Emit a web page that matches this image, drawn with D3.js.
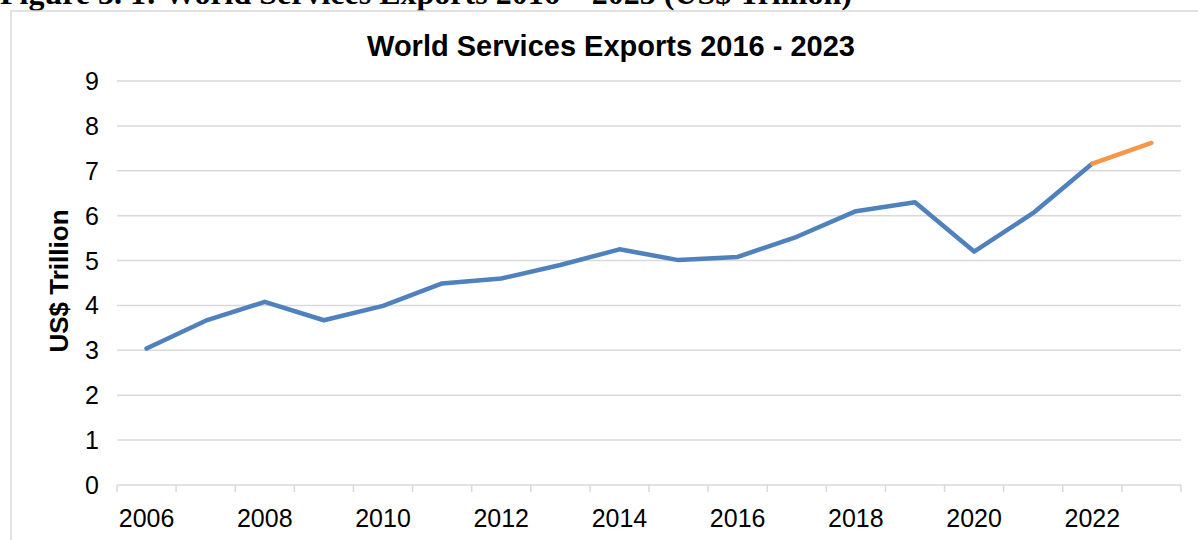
<!DOCTYPE html>
<html>
<head>
<meta charset="utf-8">
<script src="https://cdn.jsdelivr.net/npm/d3@7"></script>
<style>
  body { margin: 0; background: #fff; }
  svg { display: block; }
</style>
</head>
<body>
<svg width="1198" height="540"></svg>
<script>
var years = ["2006","2007","2008","2009","2010","2011","2012","2013","2014",
             "2015","2016","2017","2018","2019","2020","2021","2022","2023"];
// actual exports, US$ trillion
var actual = [3.04, 3.66, 4.08, 3.67, 3.99, 4.49, 4.60, 4.90, 5.25,
              5.01, 5.08, 5.53, 6.10, 6.30, 5.20, 6.06, 7.16, null];
// projection segment
var projected = [null, null, null, null, null, null, null, null, null,
                 null, null, null, null, null, null, null, 7.16, 7.62];
var yTicks = [0, 1, 2, 3, 4, 5, 6, 7, 8, 9];

var svg = d3.select("svg");

// figure caption, clipped at the top of the page like the source
svg.append("text")
    .attr("x", 0)
    .attr("y", 4)
    .style("font-family", "'Liberation Serif', 'Times New Roman', serif")
    .style("font-weight", "bold")
    .style("font-size", "32px")
    .text("Figure 3. 1: World Services Exports 2016 \u2013 2023 (US$ Trillion)");

// chart area border
svg.append("rect")
    .attr("x", 11)
    .attr("y", 11)
    .attr("width", 1300)
    .attr("height", 600)
    .style("fill", "none")
    .style("stroke", "#d9d9d9")
    .style("stroke-width", 1.5);

var x = d3.scaleBand().domain(years).range([117, 1181]);
var y = d3.scaleLinear().domain([0, 9]).range([485, 81]);

// gridlines
svg.append("g").selectAll("line")
    .data(yTicks)
    .enter().append("line")
    .attr("x1", 117)
    .attr("x2", 1181)
    .attr("y1", function(d) { return y(d); })
    .attr("y2", function(d) { return y(d); })
    .style("stroke", "#d9d9d9")
    .style("stroke-width", 1.5);

// y tick labels
svg.append("g").selectAll("text")
    .data(yTicks)
    .enter().append("text")
    .attr("x", 99)
    .attr("y", function(d) { return y(d); })
    .attr("dy", ".36em")
    .attr("text-anchor", "end")
    .style("font-family", "Arial, 'Liberation Sans', sans-serif")
    .style("font-size", "25px")
    .style("fill", "#000")
    .text(function(d) { return d; });

// x axis ticks between categories
var bounds = years.map(function(d) { return x(d); }).concat([x(years[years.length - 1]) + x.bandwidth()]);
svg.append("g").selectAll("line")
    .data(bounds)
    .enter().append("line")
    .attr("x1", function(d) { return d; })
    .attr("x2", function(d) { return d; })
    .attr("y1", 485)
    .attr("y2", 492)
    .style("stroke", "#d9d9d9")
    .style("stroke-width", 1.5);

// x labels, every other year
svg.append("g").selectAll("text")
    .data(years.filter(function(d, i) { return i % 2 === 0; }))
    .enter().append("text")
    .attr("x", function(d) { return x(d) + x.bandwidth() / 2; })
    .attr("y", 527)
    .attr("text-anchor", "middle")
    .style("font-family", "Arial, 'Liberation Sans', sans-serif")
    .style("font-size", "25px")
    .style("fill", "#000")
    .text(function(d) { return d; });

// y axis title
svg.append("text")
    .attr("transform", "translate(68,281) rotate(-90)")
    .attr("text-anchor", "middle")
    .style("font-family", "Arial, 'Liberation Sans', sans-serif")
    .style("font-weight", "bold")
    .style("font-size", "26px")
    .text("US$ Trillion");

// chart title
svg.append("text")
    .attr("x", 611)
    .attr("y", 56)
    .attr("text-anchor", "middle")
    .style("font-family", "Arial, 'Liberation Sans', sans-serif")
    .style("font-weight", "bold")
    .style("font-size", "29px")
    .text("World Services Exports 2016 - 2023");

var line = d3.line()
    .defined(function(d) { return d != null; })
    .x(function(d, i) { return x(years[i]) + x.bandwidth() / 2; })
    .y(function(d) { return y(d); });

svg.append("path")
    .datum(actual)
    .attr("d", line)
    .style("fill", "none")
    .style("stroke", "#4F81BD")
    .style("stroke-width", 4.5)
    .style("stroke-linejoin", "round")
    .style("stroke-linecap", "round");

svg.append("path")
    .datum(projected)
    .attr("d", line)
    .style("fill", "none")
    .style("stroke", "#F79646")
    .style("stroke-width", 4.5)
    .style("stroke-linejoin", "round")
    .style("stroke-linecap", "round");
</script>
</body>
</html>
